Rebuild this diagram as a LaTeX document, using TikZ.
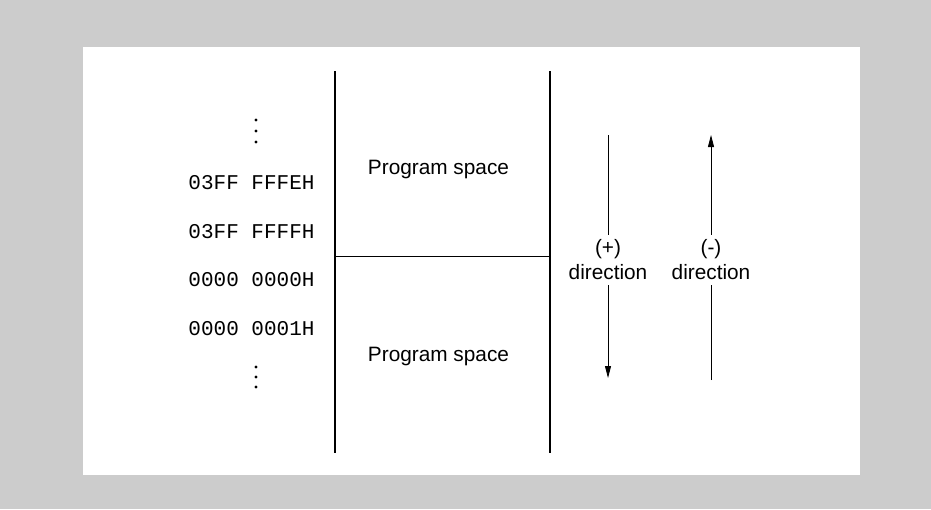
\documentclass[tikz,border=0pt]{standalone}
\usepackage{fontspec}
\setmainfont{Liberation Sans}
\setmonofont{Liberation Mono}
\usetikzlibrary{arrows.meta}

\begin{document}
\begin{tikzpicture}[x=1pt,y=-1pt,
    wall/.style={line width=2pt},
    addr/.style={font=\fontsize{21}{25}\selectfont\ttfamily},
    spacetext/.style={font=\fontsize{20.8}{25}\selectfont},
    dirtext/.style={font=\fontsize{20.8}{25}\selectfont, align=center, inner sep=5pt},
    dirline/.style={line width=0.8pt},
    tip/.style={-{Triangle[length=12pt,width=6pt]}},
  ]
  % frame
  \fill[black!20] (0,0) rectangle (931,509);
  \fill[white] (83,47) rectangle (860,475);

  % memory column
  \coordinate (lt) at (335,71);
  \coordinate (lb) at (335,453);
  \coordinate (rt) at (550,71);
  \coordinate (rb) at (550,453);
  \coordinate (ml) at (335,256);
  \coordinate (mr) at (550,256);
  \draw[wall] (lt) -- (lb);
  \draw[wall] (rt) -- (rb);
  \draw[line width=0.9pt] (ml) -- (mr);
  \node[spacetext] (upper) at (438.5,169) {Program space};
  \node[spacetext] (lower) at (438.5,356) {Program space};

  % addresses
  \foreach \t/\y [count=\n] in {
      03FF FFFEH/183,
      03FF FFFFH/232,
      0000 0000H/280,
      0000 0001H/329} {
    \node[addr] (a\n) at (251.5,\y) {\t};
  }
  \foreach \y in {120,131,142,367,377,387}
    \fill (256,\y) circle (1.6);

  % directions
  \node[dirtext] (plus) at (608,260) {(+)\\direction};
  \node[dirtext] (minus) at (711,260) {(-)\\direction};
  \coordinate (ptop) at (608,135);
  \coordinate (pbot) at (608,378);
  \coordinate (mtop) at (711,135);
  \coordinate (mbot) at (711,380);
  \draw[dirline] (ptop) -- (plus);
  \draw[dirline,tip] (plus) -- (pbot);
  \draw[dirline] (mbot) -- (minus);
  \draw[dirline,tip] (minus) -- (mtop);
\end{tikzpicture}
\end{document}
